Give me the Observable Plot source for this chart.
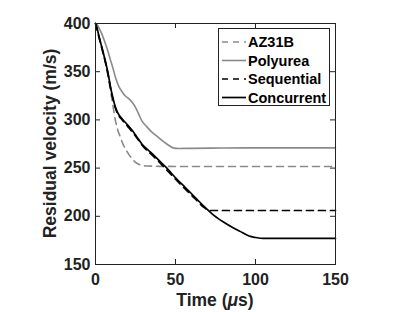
<!DOCTYPE html>
<html><head>
<meta charset="utf-8">
<script src="https://cdn.jsdelivr.net/npm/d3@7"></script>
<script src="https://cdn.jsdelivr.net/npm/@observablehq/plot@0.6"></script>
<style>
body{margin:0;background:#fff}
#wrap{position:relative;width:415px;height:312px;font-family:"Liberation Sans",Arial,Helvetica,sans-serif}
#legend{position:absolute;left:0;top:0}
</style>
</head><body><div id="wrap"></div>
<script>
// ---- data ----
const xTicks = [0, 50, 100, 150];
const yTicks = [150, 200, 250, 300, 350, 400];
const seriesNames = ["AZ31B", "Polyurea", "Sequential", "Concurrent"];

const azT = [0,1,2.5,4,5.2,6.5,8.3,10.4,12.5,14,15.6,17,18.75,20.5,22.9,25,27,29,32,36,40,60,100,150];
const azV = [400,393,384,376,368,358,341,320,299,289,282,275.5,270,265,259.6,256,254,252.7,252.2,252,251.8,251.7,251.7,251.7];

const polyT = [0,1,2,4,6,8,9.4,11,12.5,14.5,16.7,18.5,20.8,23,25,27,29,32,35.4,38.5,41.7,45,49,52,60,80,100,150];
const polyV = [400,399,396,389,380,370,362,353,344,335,329,325,322,318,313,306,299,293,287,283,278.6,274.5,270.7,270.3,270.5,270.8,271,271];

const seqT = [0,1,2,4,6,8,9.4,11,12.5,14,16.7,20,23,26,29,32,35.4,40,44,50,56,62,68,71,80,100,150];
const seqV = [400,394,387,374,361,346,333,321,312,306,300,293.5,287.5,281,274,268.5,263.5,256,249,238.5,228.5,218.5,209,206,206,206,206];

const concT = [0,1,2,4,6,8,9.4,11,12.5,14,16.7,20,23,26,29,32,35.4,40,44,50,56,62,68,74,80,86,92,96,100,105,110,150];
const concV = [400,395,388,375,362,347,334,322,313,307,301,295,289,282,275,270,265,257.5,251,240,230,220,210,201,194,188,183,179.5,178,177,177,177];

// ---- tables ----
const tbl = (T, V) => T.map((t, i) => ({t, v: V[i]}));
const az = tbl(azT, azV), poly = tbl(polyT, polyV), seq = tbl(seqT, seqV), conc = tbl(concT, concV);

const W = 415, H = 312, mL = 95, mR = 80, mT = 23, mB = 48;
const pW = W - mL - mR, pH = H - mT - mB;
const ink = "#222";
const gray = "#8a8a8a";
const tk = 5;

const styles = [
  {stroke: gray, strokeWidth: 1.6, strokeDasharray: "7,5"},
  {stroke: gray, strokeWidth: 1.6},
  {stroke: "#000", strokeWidth: 1.7, strokeDasharray: "7,5"},
  {stroke: "#000", strokeWidth: 1.7}
];

const chart = Plot.plot({
  width: W, height: H,
  marginLeft: mL, marginRight: mR, marginTop: mT, marginBottom: mB,
  style: {fontFamily: '"Liberation Sans", Arial, sans-serif', fontSize: "16px", fontWeight: "bold", color: ink, background: "white"},
  x: {domain: [0, 150]},
  y: {domain: [150, 400]},
  marks: [
    Plot.axisX(xTicks, {tickSize: 0, tickPadding: 9, label: null, fontSize: 16, fontWeight: "bold"}),
    Plot.axisY(yTicks, {tickSize: 0, tickPadding: 5, label: null, fontSize: 16, fontWeight: "bold"}),
    Plot.tickX(xTicks, {x: d => d, insetTop: pH - tk, stroke: ink}),
    Plot.tickX(xTicks, {x: d => d, insetBottom: pH - tk, stroke: ink}),
    Plot.tickY(yTicks, {y: d => d, insetRight: pW - tk, stroke: ink}),
    Plot.tickY(yTicks, {y: d => d, insetLeft: pW - tk, stroke: ink}),
    Plot.line(az, {x: "t", y: "v", curve: "monotone-x", ...styles[0]}),
    Plot.line(poly, {x: "t", y: "v", curve: "monotone-x", ...styles[1]}),
    Plot.line(seq, {x: "t", y: "v", curve: "monotone-x", ...styles[2]}),
    Plot.line(conc, {x: "t", y: "v", curve: "monotone-x", ...styles[3]}),
    Plot.frame({stroke: ink, strokeWidth: 1})
  ]
});

const wrap = document.getElementById("wrap");
wrap.appendChild(chart);

// axis titles
const svg = d3.select(chart);
const xl = svg.append("text")
  .attr("x", mL + pW / 2).attr("y", 306)
  .attr("text-anchor", "middle").attr("fill", ink)
  .style("font-size", "17.5px").style("font-weight", "bold");
xl.append("tspan").text("Time (");
xl.append("tspan").text("μ").style("font-style", "italic");
xl.append("tspan").text("s)");

svg.append("text")
  .attr("transform", `translate(56,${mT + pH / 2}) rotate(-90)`)
  .attr("text-anchor", "middle").attr("fill", ink)
  .style("font-size", "17.5px").style("font-weight", "bold")
  .text("Residual velocity (m/s)");

// legend overlay
const lg = d3.select(wrap).append("svg").attr("id", "legend")
  .attr("width", W).attr("height", H);
lg.append("rect").attr("x", 218.5).attr("y", 28.5).attr("width", 111).attr("height", 77)
  .attr("fill", "white").attr("stroke", ink).attr("stroke-width", 1);
const rows = [42, 60.5, 79, 97.5];
seriesNames.forEach((name, i) => {
  const s = styles[i];
  lg.append("line").attr("x1", 222).attr("x2", 246).attr("y1", rows[i]).attr("y2", rows[i])
    .attr("stroke", s.stroke).attr("stroke-width", s.strokeWidth)
    .attr("stroke-dasharray", s.strokeDasharray ? "6,5" : null);
  lg.append("text").attr("x", 248).attr("y", rows[i]).attr("dy", "0.36em")
    .attr("fill", "#000").style("font-size", "14.5px").style("font-weight", "bold")
    .text(name);
});
</script>
</body></html>
